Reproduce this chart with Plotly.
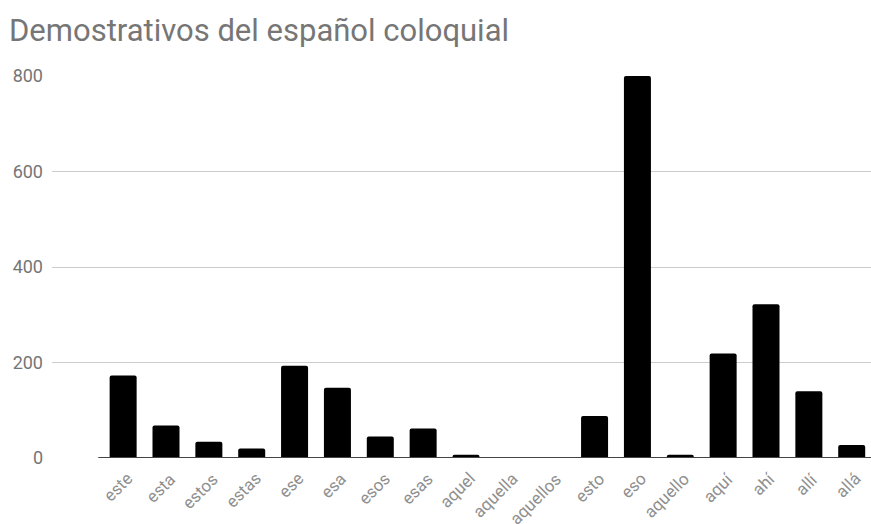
import plotly.graph_objects as go

# Frecuencia de cada demostrativo en el corpus coloquial
palabras = ["este", "esta", "estos", "estas", "ese", "esa", "esos", "esas",
            "aquel", "aquella", "aquellos", "esto", "eso", "aquello",
            "aquí", "ahí", "allí", "allá"]
frecuencias = [173, 68, 34, 20, 193, 147, 45, 62,
               7, 1, 1, 88, 800, 7,
               219, 322, 140, 27]
marcas_y = [0, 200, 400, 600, 800]

posiciones = list(range(len(palabras)))

fig = go.Figure(
    go.Bar(
        x=posiciones,
        y=frecuencias,
        marker=dict(color="#000000", line=dict(width=0), cornerradius=2),
        customdata=palabras,
        hovertemplate="%{customdata}: %{y}<extra></extra>",
    )
)

fig.update_layout(
    width=871,
    height=524,
    margin=dict(l=52, r=0, t=76, b=66, autoexpand=False),
    paper_bgcolor="#ffffff",
    plot_bgcolor="#ffffff",
    font=dict(family="Roboto, sans-serif", color="#757575"),
    showlegend=False,
    bargap=0.37,
    title=dict(
        text="Demostrativos del español coloquial",
        font=dict(family="Roboto, sans-serif", size=31, color="#767676"),
        xref="container", x=9 / 871, xanchor="left",
        yref="container", y=1 - 30 / 524, yanchor="middle",
    ),
    xaxis=dict(
        range=[-1.66, 17.45],
        showticklabels=False,
        showgrid=False,
        zeroline=False,
        showline=False,
        ticks="",
        automargin=False,
    ),
    yaxis=dict(
        range=[0, 800],
        tickmode="array",
        tickvals=marcas_y,
        ticktext=[str(v) for v in marcas_y],
        tickfont=dict(size=18, color="#757575"),
        showgrid=True,
        gridcolor="#cccccc",
        gridwidth=1,
        zeroline=False,
        showline=False,
        ticks="",
        automargin=False,
        ticklabelstandoff=8,
    ),
)

# Etiquetas de categoría giradas 45° bajo cada barra
for pos, palabra in zip(posiciones, palabras):
    fig.add_annotation(
        x=pos, y=0, xref="x", yref="y",
        text=palabra,
        textangle=-45,
        showarrow=False,
        xanchor="right", yanchor="top",
        xshift=16, yshift=-8,
        font=dict(family="Roboto, sans-serif", size=17, color="#8f8f8f"),
    )

# Eje base bajo las barras
fig.add_shape(
    type="line", xref="x", yref="y",
    x0=-0.58, x1=17.45, y0=0, y1=0,
    line=dict(color="#444444", width=2),
    layer="above",
)

fig.write_html("out.html")
